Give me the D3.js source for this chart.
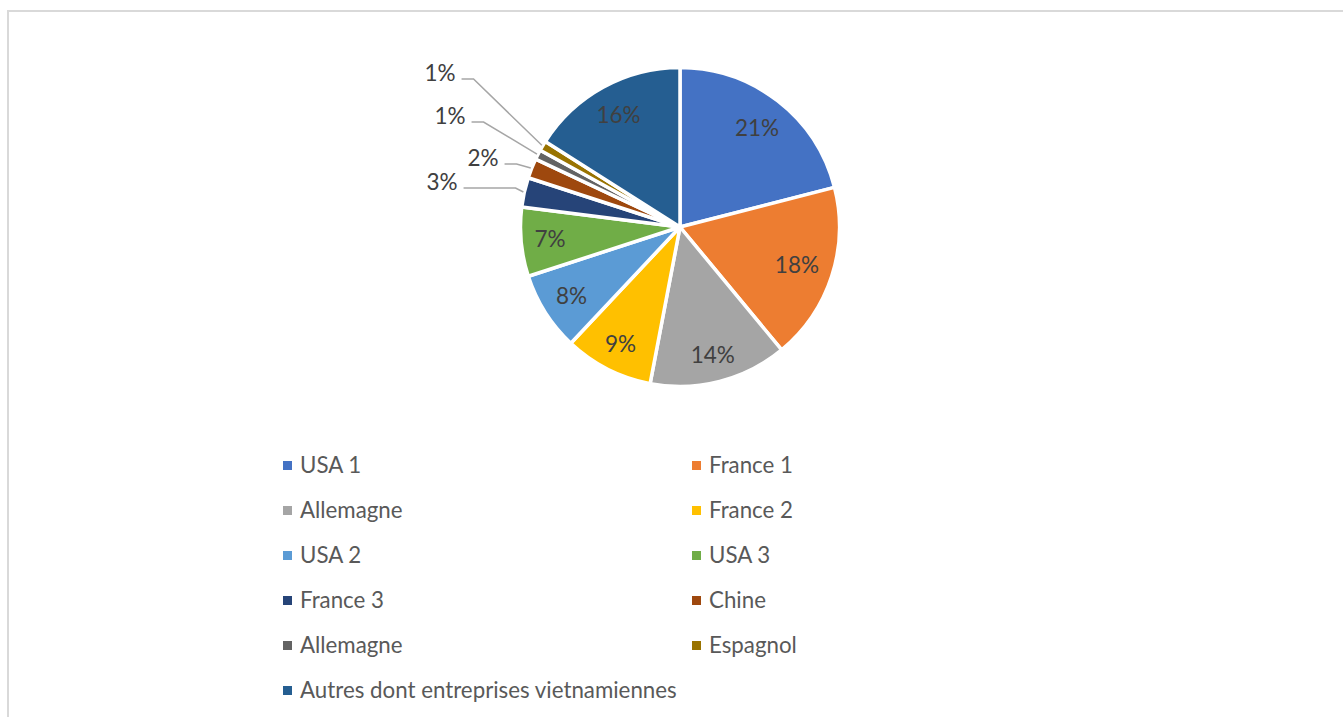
<!DOCTYPE html>
<html>
<head>
<meta charset="utf-8">
<script src="https://cdn.jsdelivr.net/npm/d3@7"></script>
<style>
  html, body { margin: 0; padding: 0; background: #fff; }
  svg { display: block; }
</style>
</head>
<body>
<svg id="chart" width="1343" height="717"></svg>
<script>
// ---- data ----
const categories = ["USA 1", "France 1", "Allemagne", "France 2", "USA 2", "USA 3",
                    "France 3", "Chine", "Allemagne", "Espagnol",
                    "Autres dont entreprises vietnamiennes"];
const values = [21, 18, 14, 9, 8, 7, 3, 2, 1, 1, 16];
const colors = ["#4472C4", "#ED7D31", "#A5A5A5", "#FFC000", "#5B9BD5", "#70AD47",
                "#264478", "#9E480E", "#636363", "#997300", "#255E91"];

// ---- layout ----
const W = 1343, H = 717;
const cx = 680, cy = 227, R = 159.5;
const fontFamily = "Lato, 'Open Sans', sans-serif";
const labelSize = 22.5, legendSize = 22.3;
// outside label placement (offset of text centre from pie centre, elbow length)
const outsideLayout = {
  6: { dx: -238, dy: -45, elbow: 52 },
  7: { dx: -197, dy: -69, elbow: 12 },
  8: { dx: -230, dy: -111, elbow: 12 },
  9: { dx: -240, dy: -154, elbow: 12 }
};

const svg = d3.select("#chart");
svg.append("rect").attr("width", W).attr("height", H).attr("fill", "#fff");
// chart frame (cropped at right & bottom)
svg.append("rect").attr("x", 8).attr("y", 11).attr("width", W + 50).attr("height", H + 50)
  .attr("fill", "none").attr("stroke", "#d9d9d9").attr("stroke-width", 2);

const data = values.map((v, i) => ({ i, name: categories[i], value: v, color: colors[i] }));
const pie = d3.pie().sort(null).value(d => d.value);
const arcs = pie(data);
const arc = d3.arc().innerRadius(0).outerRadius(R);

const g = svg.append("g").attr("transform", `translate(${cx},${cy})`);
g.selectAll("path.slice").data(arcs).join("path")
  .attr("class", "slice")
  .attr("d", arc)
  .attr("fill", d => d.data.color)
  .attr("stroke", "#fff")
  .attr("stroke-width", 3.5)
  .attr("stroke-linejoin", "round");

const total = d3.sum(values);
const fmt = v => Math.round(v / total * 100) + "%";

// inside labels (best-fit style: box pushed toward outer edge)
const inside = arcs.filter(d => !(d.index in outsideLayout));
const inText = g.selectAll("text.in").data(inside).join("text")
  .attr("class", "in")
  .attr("font-family", fontFamily)
  .attr("font-size", labelSize)
  .attr("fill", "#404040")
  .attr("text-anchor", "middle")
  .text(d => fmt(d.data.value));
inText.each(function(d) {
  const w = this.getComputedTextLength();
  const hw = w / 2, hh = 10;
  const a = (d.startAngle + d.endAngle) / 2;
  const s = Math.sin(a), c = -Math.cos(a);
  const dist = 147 - (hw * Math.abs(s) + hh * Math.abs(c));
  const x = dist * s, y = dist * c;
  d3.select(this).attr("x", x).attr("y", y + 8);
});

// outside labels with leader lines
const outside = arcs.filter(d => d.index in outsideLayout);
outside.forEach(d => {
  const L = outsideLayout[d.index];
  const t = g.append("text")
    .attr("font-family", fontFamily)
    .attr("font-size", labelSize)
    .attr("fill", "#404040")
    .attr("text-anchor", "middle")
    .attr("x", L.dx).attr("y", L.dy + 8)
    .text(fmt(d.data.value));
  const w = t.node().getComputedTextLength();
  const a = (d.startAngle + d.endAngle) / 2;
  const end = [(R + 1) * Math.sin(a), -(R + 1) * Math.cos(a)];
  const x0 = L.dx + w / 2 + 6, y0 = L.dy + 6;
  const pts = [[x0, y0], [x0 + L.elbow, y0], end];
  g.insert("path", "text")
    .attr("d", d3.line()(pts))
    .attr("fill", "none")
    .attr("stroke", "#a6a6a6")
    .attr("stroke-width", 1.5);
});

// legend
const legX = [283, 692], legY0 = 465.5, legDy = 45;
const leg = svg.append("g");
data.forEach((d, k) => {
  const col = k % 2, row = Math.floor(k / 2);
  const x = legX[col], y = legY0 + row * legDy;
  leg.append("rect").attr("x", x).attr("y", y - 4.5).attr("width", 9).attr("height", 9)
    .attr("fill", d.color);
  leg.append("text").attr("x", x + 17).attr("y", y + 7)
    .attr("font-family", fontFamily).attr("font-size", legendSize)
    .attr("fill", "#595959").text(d.name);
});
</script>
</body>
</html>
